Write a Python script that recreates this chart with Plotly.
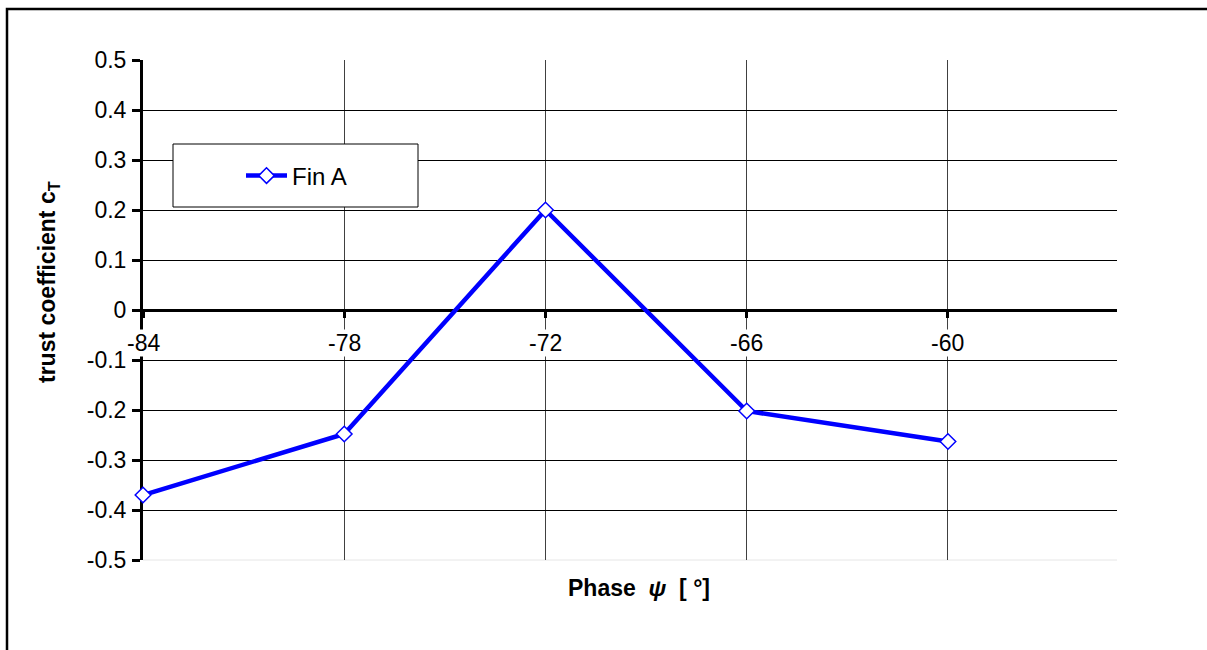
import plotly.graph_objects as go

# Thrust coefficient of fin A versus phase angle
phase_deg = [-84, -78, -72, -66, -60]
fin_a_ct = [-0.37, -0.248, 0.20, -0.202, -0.263]

x_tick_vals = [-84, -78, -72, -66, -60]
x_tick_text = ["-84", "-78", "-72", "-66", "-60"]
y_tick_vals = [-0.5, -0.4, -0.3, -0.2, -0.1, 0.0, 0.1, 0.2, 0.3, 0.4, 0.5]
y_tick_text = ["-0.5", "-0.4", "-0.3", "-0.2", "-0.1", "0", "0.1", "0.2", "0.3", "0.4", "0.5"]

FONT = "Liberation Sans, Arial, sans-serif"
W, H = 1207, 650
ML, MR, MT, MB = 143, 90, 60, 90
PW, PH = W - ML - MR, H - MT - MB


def px_to_paper_x(px):
    return (px - ML) / PW


def px_to_paper_y(py):
    return (H - MB - py) / PH


fig = go.Figure()
fig.add_trace(go.Scatter(
    x=phase_deg, y=fin_a_ct, name="Fin A", mode="lines+markers",
    line=dict(color="#0000FF", width=4.5),
    marker=dict(symbol="diamond", size=12, color="white",
                line=dict(color="#0000FF", width=1.5)),
    cliponaxis=False,
))

# category labels sit just under the zero line on a white box
x_label_annotations = [
    dict(text=lbl, x=val, y=0, xref="x", yref="y", showarrow=False,
         xanchor="center", yanchor="top", yshift=-19, bgcolor="white", borderpad=0,
         font=dict(family=FONT, size=23, color="black"))
    for val, lbl in zip(x_tick_vals, x_tick_text)
]

fig.update_layout(
    width=W, height=H,
    margin=dict(l=ML, r=MR, t=MT, b=MB),
    paper_bgcolor="white", plot_bgcolor="white",
    font=dict(family=FONT, color="black", size=23),
    showlegend=True,
    legend=dict(x=px_to_paper_x(241), y=px_to_paper_y(176), xanchor="left", yanchor="middle",
                bgcolor="rgba(0,0,0,0)", borderwidth=0,
                font=dict(family=FONT, size=24, color="black"), itemwidth=41),
    xaxis=dict(
        range=[-84, -54.96], tickvals=x_tick_vals, ticktext=x_tick_text,
        showticklabels=False,
        showgrid=True, gridcolor="#404040", gridwidth=1,
        showline=True, linecolor="black", linewidth=3,
        anchor="free", position=0.5,
        ticks="outside", ticklen=6, tickwidth=3, tickcolor="black",
        zeroline=False, layer="below traces",
    ),
    yaxis=dict(
        range=[-0.5, 0.5], tickvals=y_tick_vals, ticktext=y_tick_text,
        showgrid=True, gridcolor="black", gridwidth=1,
        showline=True, linecolor="black", linewidth=3,
        ticks="outside", ticklen=8, tickwidth=3, tickcolor="black",
        ticklabelstandoff=1,
        zeroline=False, layer="below traces",
        tickfont=dict(family=FONT, size=23),
    ),
    shapes=[
        # outer chart frame
        dict(type="rect", xref="paper", yref="paper",
             x0=px_to_paper_x(7), x1=px_to_paper_x(1230),
             y0=px_to_paper_y(680), y1=px_to_paper_y(9),
             line=dict(color="black", width=2.5), fillcolor="rgba(0,0,0,0)", layer="below"),
        # faint plot-area bottom edge
        dict(type="line", xref="paper", yref="paper", x0=0, x1=1, y0=0, y1=0,
             line=dict(color="#e6e6e6", width=1), layer="below"),
        # legend box
        dict(type="rect", xref="paper", yref="paper",
             x0=px_to_paper_x(173), x1=px_to_paper_x(418),
             y0=px_to_paper_y(207), y1=px_to_paper_y(144),
             line=dict(color="black", width=1), fillcolor="white", layer="above"),
    ],
    annotations=x_label_annotations + [
        dict(text="<b>Phase  <i>ψ</i>  [ °]</b>", xref="paper", yref="paper",
             x=px_to_paper_x(639), y=px_to_paper_y(588), showarrow=False,
             xanchor="center", yanchor="middle", font=dict(family=FONT, size=23)),
        dict(text="<b>trust coefficient c<sub>T</sub></b>", xref="paper", yref="paper",
             x=px_to_paper_x(48), y=px_to_paper_y(282), showarrow=False, textangle=-90,
             xanchor="center", yanchor="middle", font=dict(family=FONT, size=23)),
    ],
)

fig.write_html("out.html")
